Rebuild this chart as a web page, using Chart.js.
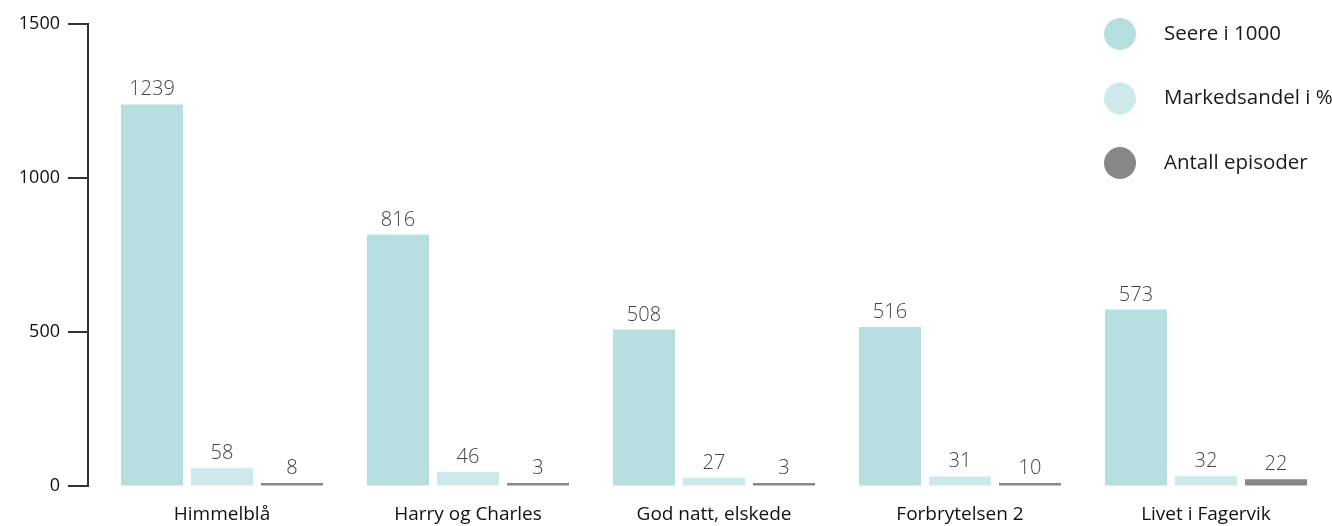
<!DOCTYPE html>
<html>
<head>
<meta charset="utf-8">
<script src="https://cdn.jsdelivr.net/npm/chart.js@4"></script>
<style>
  html, body { margin: 0; padding: 0; background: #fff; overflow: hidden; }
  canvas { display: block; }
</style>
</head>
<body>
<canvas id="tvChart" width="1332" height="526"></canvas>
<script>
// data
const programmes = ["Himmelblå", "Harry og Charles", "God natt, elskede", "Forbrytelsen 2", "Livet i Fagervik"];
const seere = [1239, 816, 508, 516, 573];
const markedsandel = [58, 46, 27, 31, 32];
const episoder = [8, 3, 3, 10, 22];
const seriesNames = ["Seere i 1000", "Markedsandel i %", "Antall episoder"];
const yTicks = [0, 500, 1000, 1500];

const fontFamily = "'Open Sans', 'Noto Sans', sans-serif";

// y axis line with outward tick marks, drawn a bit left of the bars
const axisLine = {
    id: "axisLine",
    afterDraw(chart) {
        const ctx = chart.ctx;
        const y = chart.scales.y;
        const x0 = 88;
        ctx.save();
        ctx.strokeStyle = "#333";
        ctx.lineWidth = 2;
        ctx.beginPath();
        ctx.moveTo(x0, y.getPixelForValue(1500) - 1);
        ctx.lineTo(x0, y.getPixelForValue(0) + 1);
        ctx.stroke();
        yTicks.forEach(t => {
            const py = Math.round(y.getPixelForValue(t));
            ctx.beginPath();
            ctx.moveTo(x0 - 20, py);
            ctx.lineTo(x0, py);
            ctx.stroke();
        });
        ctx.restore();
    }
};

// numbers above every bar
const valueLabels = {
    id: "valueLabels",
    afterDatasetsDraw(chart) {
        const ctx = chart.ctx;
        ctx.save();
        ctx.font = "300 20px " + fontFamily;
        ctx.fillStyle = "#444";
        ctx.textAlign = "center";
        ctx.textBaseline = "alphabetic";
        chart.data.datasets.forEach((ds, i) => {
            chart.getDatasetMeta(i).data.forEach((bar, j) => {
                ctx.fillText(ds.data[j], bar.x, bar.y - 9);
            });
        });
        ctx.restore();
    }
};

// legend in the top right corner, round markers
const sideLegend = {
    id: "sideLegend",
    afterDraw(chart) {
        const ctx = chart.ctx;
        ctx.save();
        chart.data.datasets.forEach((ds, i) => {
            const cy = 34 + i * 64.5;
            ctx.fillStyle = ds.backgroundColor;
            ctx.beginPath();
            ctx.arc(1120, cy, 16, 0, Math.PI * 2);
            ctx.fill();
            ctx.fillStyle = "#1a1a1a";
            ctx.font = "20.5px " + fontFamily;
            ctx.textAlign = "left";
            ctx.textBaseline = "middle";
            ctx.fillText(ds.label, 1164, cy);
        });
        ctx.restore();
    }
};

new Chart(document.getElementById("tvChart"), {
    type: "bar",
    data: {
        labels: programmes,
        datasets: [
            { label: seriesNames[0], data: seere, backgroundColor: "#b7dfe0" },
            { label: seriesNames[1], data: markedsandel, backgroundColor: "#cde9eb" },
            { label: seriesNames[2], data: episoder, backgroundColor: "#878787", minBarLength: 3 }
        ]
    },
    options: {
        responsive: false,
        animation: false,
        categoryPercentage: 0.854,
        barPercentage: 0.886,
        layout: { padding: { top: 24, right: 3, left: 0, bottom: 0 } },
        plugins: {
            legend: { display: false },
            tooltip: { enabled: false }
        },
        scales: {
            x: {
                grid: { display: false },
                border: { display: false },
                ticks: {
                    padding: 9,
                    color: "#111",
                    font: { family: fontFamily, size: 19 }
                },
                afterFit: s => { s.height = 40; }
            },
            y: {
                min: 0,
                max: 1500,
                grid: { drawOnChartArea: false, tickLength: 39, tickColor: "rgba(0,0,0,0)" },
                border: { display: false },
                afterBuildTicks: s => { s.ticks = yTicks.map(v => ({ value: v })); },
                ticks: {
                    padding: 0,
                    color: "#111",
                    font: { family: fontFamily, size: 18 },
                    callback: v => String(v)
                },
                afterFit: s => { s.width = 99; }
            }
        }
    },
    plugins: [axisLine, valueLabels, sideLegend]
});
</script>
</body>
</html>
